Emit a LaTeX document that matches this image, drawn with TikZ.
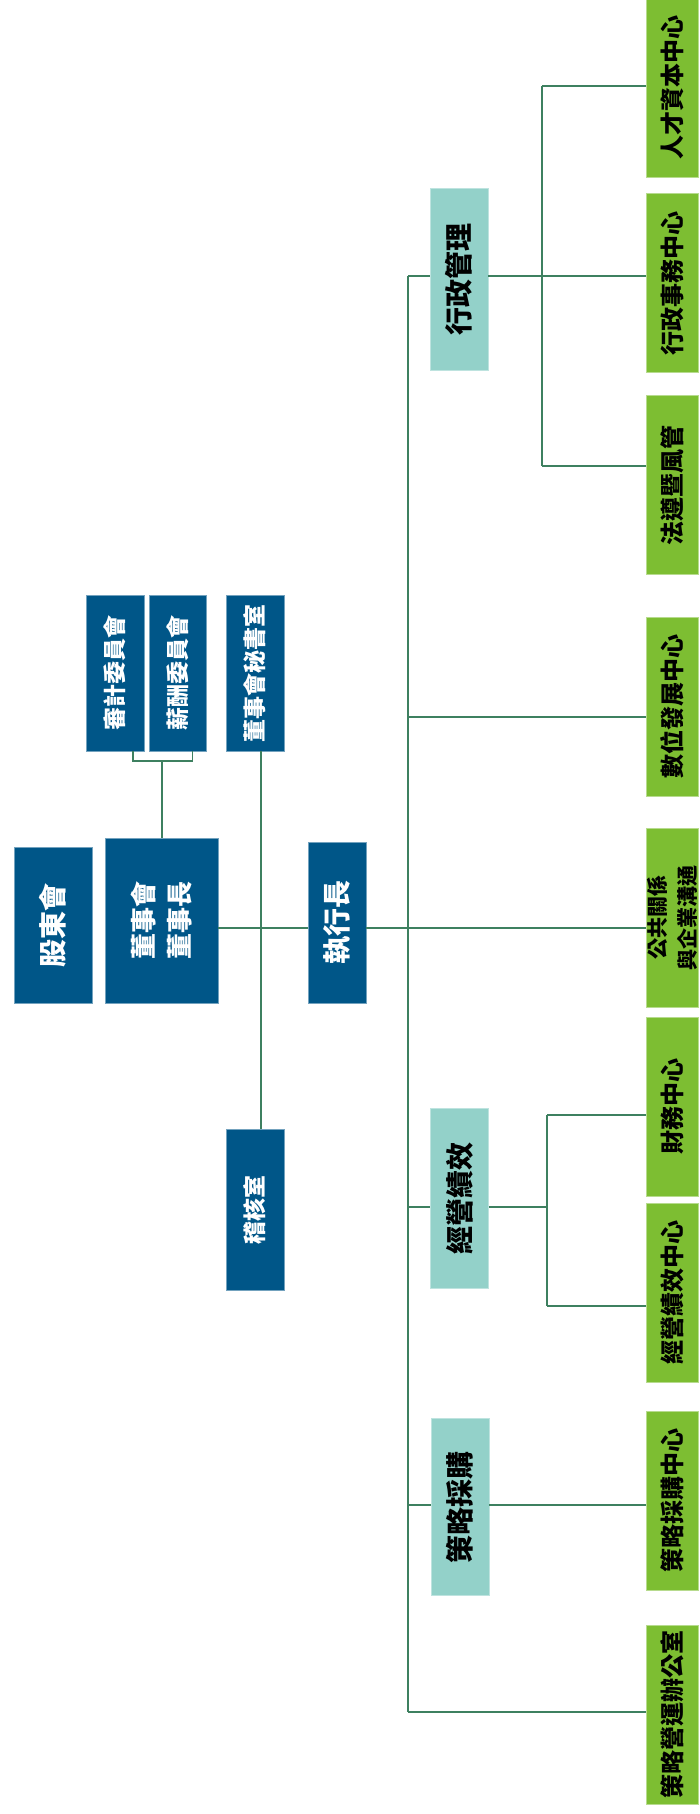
\documentclass[tikz,border=0pt]{standalone}
\usepackage{fontspec}
\newfontfamily\cjk{Noto Sans CJK TC}
\usetikzlibrary{calc,positioning}
\definecolor{boardblue}{RGB}{0,86,136}
\definecolor{unitteal}{RGB}{147,209,201}
\definecolor{leafgreen}{RGB}{125,190,50}
\definecolor{linkgreen}{RGB}{62,128,96}

\begin{document}
\begin{tikzpicture}[x=1pt,y=-1pt,
    box/.style={rotate=90,inner sep=0pt,align=center,line width=0.6pt},
    board/.style={box,fill=boardblue,draw=boardblue!55!white,text=white},
    unit/.style={box,fill=unitteal,draw=unitteal!60!white,minimum height=58pt,
      font=\cjk\bfseries\fontsize{28}{30}\selectfont},
    leaf/.style={box,fill=leafgreen,draw=leafgreen!55!white,minimum width=179pt,
      minimum height=52pt,font=\cjk\bfseries\fontsize{24}{26}\selectfont},
    link/.style={draw=linkgreen,line width=1.2pt}]
  \useasboundingbox[fill=white] (0,0) rectangle (699,1814);

  %% Board side
  \node[board,minimum width=156pt,minimum height=78pt,
    font=\cjk\bfseries\fontsize{28}{30}\selectfont] (SH) at (53,925) {股東會};
  \node[board,minimum width=165pt,minimum height=113pt,
    font=\cjk\bfseries\fontsize{26}{36}\selectfont] (BD) at (161.5,920.5) {董事會\\董事長};
  \foreach \n/\x/\w/\t in {AC/115/58/審計委員會, RC/177.5/57/薪酬委員會, BS/255/58/董事會秘書室}
  {
    \node[board,minimum width=156pt,minimum height=\w pt,
      font=\cjk\bfseries\fontsize{23}{25}\selectfont] (\n) at (\x,673) {\t};
  }
  \node[board,minimum width=161pt,minimum height=58pt,
    font=\cjk\bfseries\fontsize{23}{25}\selectfont] (AUD) at (255,1210) {稽核室};
  \node[board,minimum width=161pt,minimum height=58pt,
    font=\cjk\bfseries\fontsize{28}{30}\selectfont] (CEO) at (337,922.5) {執行長};

  %% Units under the CEO
  \node[unit,minimum width=182pt] (ADM) at (459,279)  {行政管理};
  \node[unit,minimum width=180pt] (OPM) at (459.5,1198) {經營績效};
  \node[unit,minimum width=177pt] (STR) at (460,1507) {策略採購};

  %% Centres
  \foreach \n/\y/\t in {1/87.5/人才資本中心, 2/283/行政事務中心, 3/485/法遵暨風管,
      4/706.5/數位發展中心, 6/1106.5/財務中心, 7/1292.5/經營績效中心,
      8/1500.5/策略採購中心, 9/1714.5/策略營運辦公室}
  {
    \node[leaf] (L\n) at (672,\y) {\t};
  }
  \node[leaf,font=\cjk\bfseries\fontsize{21}{30}\selectfont] (PR) at (672,917.5)
    {公共關係\\與企業溝通};

  %% Connectors
  \coordinate (brk) at (162,761);
  \coordinate (mid) at (0,928);
  \draw[link] ([xshift=18pt]AC.west) |- (brk) -| ([xshift=15pt]RC.west);
  \draw[link] (brk) -- (brk |- BD.east);
  \draw[link] ([xshift=6pt]BS.west) -- ([xshift=6pt]AUD.east);
  \draw[link] (BD.south |- mid) -- (CEO.north |- mid);
  \draw[link] (CEO.south |- mid) -- (PR.north |- mid);

  \foreach \n/\y in {ADM/276, DIG/717, OPM/1207, STR/1505, OFF/1712}
    \coordinate (T\n) at (408,\y);
  \draw[link] (TADM) -- (TOFF);

  \coordinate (G1a) at (542,86);
  \coordinate (G1b) at (542,466);
  \draw[link] (G1a) -- (G1b);
  \draw[link] (TADM) -- (TADM -| ADM.north);
  \draw[link] (TADM -| ADM.south) -- (TADM -| L2.north);
  \draw[link] (G1a) -- (G1a -| L1.north);
  \draw[link] (G1b) -- (G1b -| L3.north);

  \draw[link] (TDIG) -- (TDIG -| L4.north);

  \coordinate (G2a) at (547,1115);
  \coordinate (G2b) at (547,1306);
  \draw[link] (TOPM) -- (TOPM -| OPM.north);
  \draw[link] (TOPM -| OPM.south) -- (TOPM -| G2a);
  \draw[link] (G2a) -- (G2b);
  \draw[link] (G2a) -- (G2a -| L6.north);
  \draw[link] (G2b) -- (G2b -| L7.north);

  \draw[link] (TSTR) -- (TSTR -| STR.north);
  \draw[link] (TSTR -| STR.south) -- (TSTR -| L8.north);
  \draw[link] (TOFF) -- (TOFF -| L9.north);
\end{tikzpicture}
\end{document}
